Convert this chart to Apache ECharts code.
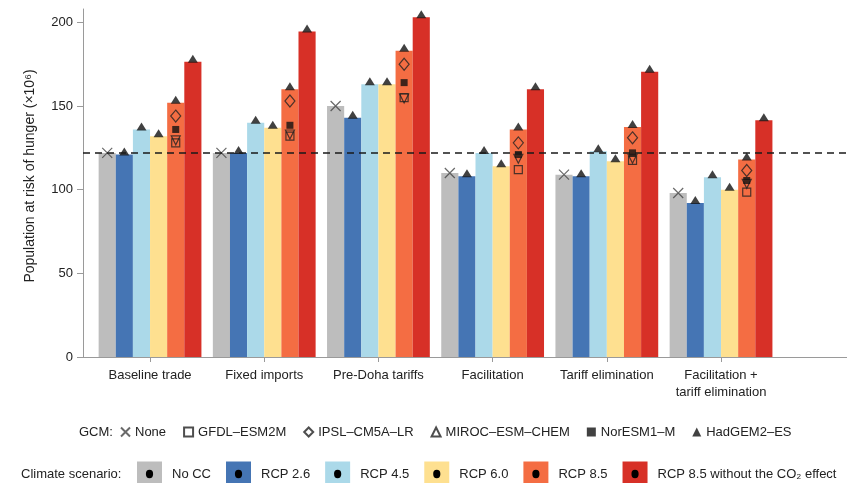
<!DOCTYPE html>
<html>
<head>
<meta charset="utf-8">
<script src="https://cdn.jsdelivr.net/npm/echarts@6/dist/echarts.min.js"></script>
<style>
  html, body { margin: 0; padding: 0; background: #fff; }
  #chart { width: 847px; height: 483px; }
</style>
</head>
<body>
<div id="chart"></div>
<script>
// Trade scenarios along the x axis
const groups = ['Baseline trade', 'Fixed imports', 'Pre-Doha tariffs', 'Facilitation',
  'Tariff elimination', 'Facilitation +\ntariff elimination'];

// Climate scenarios (bars); bar height for RCP runs = HadGEM2-ES result
const scenarioNames = ['No CC', 'RCP 2.6', 'RCP 4.5', 'RCP 6.0', 'RCP 8.5', 'RCP 8.5 without the CO₂ effect'];
const noCC       = [122, 122, 150, 110, 109, 98];
const rcp26      = [121, 122, 143, 108, 108, 92];
const rcp45      = [136, 140, 163, 122, 123, 107.5];
const rcp60      = [132, 137, 163, 114, 117, 100];
const rcp85      = [152, 160, 183, 136, 137.5, 118];
const rcp85noCO2 = [176.5, 194.5, 203, 160, 170.5, 141.5];

// Other GCM results, shown on the RCP 8.5 bars only
const gcmNames = ['None', 'GFDL–ESM2M', 'IPSL–CM5A–LR', 'MIROC–ESM–CHEM', 'NorESM1–M', 'HadGEM2–ES'];
const gfdl   = [128, 132, 155, 112, 117.5, 98.5];
const ipsl   = [144, 153, 175, 128, 131, 111.5];
const miroc  = [129.5, 133, 154.5, 118.5, 118.5, 103.5];
const noresm = [136, 138.5, 164, 121, 122, 105.5];

// Y axis ticks
const yTicks = [0, 50, 100, 150, 200];

const scenarioValues = [noCC, rcp26, rcp45, rcp60, rcp85, rcp85noCO2];
const scenarioColors = ['#bdbdbd', '#4575b4', '#abd9e9', '#fee090', '#f46d43', '#d73027'];

const GRID = { left: 83, right: 0, top: 9, bottom: 126 };
const X_MIN = 0.413, X_MAX = 7.103;
const SLOT = 0.15;                    // width of one bar in axis units
const groupTicks = groups.map((_, g) => g + 1);

const chart = echarts.init(document.getElementById('chart'), null, { renderer: 'canvas' });
const pxPerUnit = (chart.getWidth() - GRID.left - GRID.right) / (X_MAX - X_MIN);
const barPx = SLOT * pxPerUnit;

const slotX = (g, i) => g + 1 + (i - 2.5) * SLOT;
const RCP85 = 4;

const FONT = "'Liberation Sans', Arial, Helvetica, sans-serif";
const TEXT = '#222';
const AXIS = '#9a9a9a';

const barSeries = scenarioNames.map((name, i) => {
  const s = {
    name,
    type: 'bar',
    barWidth: barPx,
    barGap: '-100%',
    itemStyle: { color: scenarioColors[i] },
    emphasis: { disabled: true },
    data: scenarioValues[i].map((v, g) => [slotX(g, i), v])
  };
  if (i === 0) {
    s.markLine = {
      silent: true,
      symbol: 'none',
      label: { show: false },
      lineStyle: { color: '#1a1a1a', type: [7, 5], width: 1.7 },
      data: [{ yAxis: noCC[0] }]
    };
  }
  return s;
});

const openStyle = { color: 'rgba(0,0,0,0)', borderColor: '#222', borderWidth: 1.2 };
const gcmSeries = [
  {
    name: gcmNames[0], type: 'scatter',
    symbol: 'path://M0,0L10,10M10,0L0,10', symbolSize: 10,
    itemStyle: { color: 'rgba(0,0,0,0)', borderColor: '#444', borderWidth: 1.2 },
    data: noCC.map((v, g) => [slotX(g, 0), v])
  },
  {
    name: gcmNames[1], type: 'scatter', symbol: 'rect', symbolSize: 8,
    itemStyle: openStyle,
    data: gfdl.map((v, g) => [slotX(g, RCP85), v])
  },
  {
    name: gcmNames[2], type: 'scatter', symbol: 'diamond', symbolSize: [10, 12],
    itemStyle: openStyle,
    data: ipsl.map((v, g) => [slotX(g, RCP85), v])
  },
  {
    name: gcmNames[3], type: 'scatter', symbol: 'triangle', symbolRotate: 180, symbolSize: 9,
    itemStyle: openStyle,
    data: miroc.map((v, g) => [slotX(g, RCP85), v])
  },
  {
    name: gcmNames[4], type: 'scatter', symbol: 'rect', symbolSize: 7,
    itemStyle: { color: '#111' },
    data: noresm.map((v, g) => [slotX(g, RCP85), v])
  },
  {
    name: gcmNames[5], type: 'scatter', symbol: 'triangle', symbolSize: [10, 8],
    symbolOffset: [0, -3],
    itemStyle: { color: '#111' },
    data: scenarioValues.slice(1).flatMap((vals, k) => vals.map((v, g) => [slotX(g, k + 1), v]))
  }
];
gcmSeries.forEach(s => { s.emphasis = { disabled: true }; s.z = 3; });

const scenarioLegendBase = {
  left: 137, top: 461.5, padding: 0,
  orient: 'horizontal',
  itemWidth: 25, itemHeight: 25, itemGap: 15,
  data: scenarioNames,
  textStyle: { fontFamily: FONT, fontSize: 13, color: TEXT, width: 56, padding: [0, 0, 0, 5] }
};

const option = {
  animation: false,
  backgroundColor: '#fff',
  grid: GRID,
  title: [
    { text: 'GCM:', left: 79, top: 426, padding: 0,
      textStyle: { fontFamily: FONT, fontSize: 13, fontWeight: 'normal', color: TEXT } },
    { text: 'Climate scenario:', left: 21, top: 468, padding: 0,
      textStyle: { fontFamily: FONT, fontSize: 13, fontWeight: 'normal', color: TEXT } }
  ],
  legend: [
    {
      left: 120, top: 425.5, padding: 0,
      itemWidth: 9, itemHeight: 9, itemGap: 17,
      data: gcmNames,
      textStyle: { fontFamily: FONT, fontSize: 13, color: TEXT }
    },
    Object.assign({}, scenarioLegendBase, { icon: 'rect' }),
    // black dot drawn inside each scenario swatch
    Object.assign({}, scenarioLegendBase, {
      selectedMode: false,
      icon: 'path://M0,0L0,0M25,25L25,25M16.1,12.5A3.6,4.2 0 1,1 8.9,12.5A3.6,4.2 0 1,1 16.1,12.5Z',
      itemStyle: { color: '#000', borderWidth: 0 },
      textStyle: Object.assign({}, scenarioLegendBase.textStyle, { color: 'rgba(0,0,0,0)' })
    })
  ],
  xAxis: {
    type: 'value',
    min: X_MIN, max: X_MAX,
    splitLine: { show: false },
    axisLine: { show: true, onZero: false, lineStyle: { color: AXIS, width: 1 } },
    axisTick: { show: true, customValues: groupTicks, length: 5, lineStyle: { color: AXIS } },
    axisLabel: {
      customValues: groupTicks,
      formatter: v => groups[Math.round(v) - 1] || '',
      fontFamily: FONT, fontSize: 13, color: TEXT, margin: 10, lineHeight: 17
    }
  },
  yAxis: {
    type: 'value',
    min: 0, max: 208,
    name: 'Population at risk of hunger (×10⁶)',
    nameLocation: 'middle', nameGap: 46,
    nameTextStyle: { fontFamily: FONT, fontSize: 14, color: TEXT, padding: [0, 0, 0, 14] },
    splitLine: { show: false },
    axisLine: { show: true, lineStyle: { color: AXIS, width: 1 } },
    axisTick: { show: true, customValues: yTicks, length: 6, lineStyle: { color: AXIS } },
    axisLabel: { customValues: yTicks, fontFamily: FONT, fontSize: 13, color: TEXT, margin: 10 }
  },
  series: barSeries.concat(gcmSeries)
};

chart.setOption(option);
</script>
</body>
</html>
